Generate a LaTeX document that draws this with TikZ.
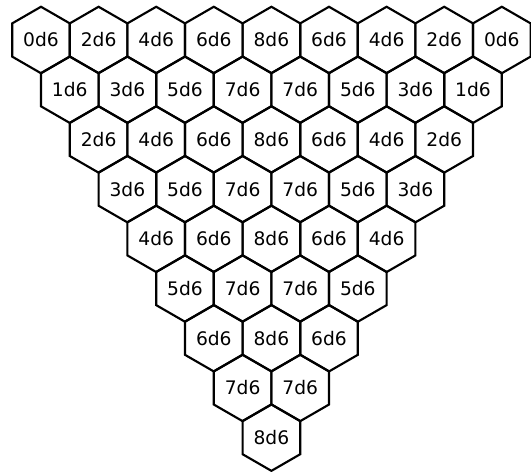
\documentclass[tikz,border=0pt]{standalone}
\usepackage{fontspec}
\setmainfont{DejaVu Sans}
\usetikzlibrary{calc}
\tikzset{
  hexcell/.style={draw=black,line width=1.6pt},
  dicelabel/.style={font=\fontsize{14}{16}\selectfont,inner sep=0pt},
}
\begin{document}
\begin{tikzpicture}[x=0.75pt,y=-0.75pt]
  \useasboundingbox (0,0) rectangle (531,471);
  % triangle of hex cells, row \r has 9-\r cells
  \foreach \r in {0,...,8}{
    \pgfmathtruncatemacro{\last}{8-\r}
    \foreach \c in {0,...,\last}{
      \pgfmathsetmacro{\cx}{41+57.6*(\c+\r/2)}
      \pgfmathsetmacro{\cy}{40+49.7*\r}
      \pgfmathtruncatemacro{\dice}{\r+2*min(\c,8-\r-\c)}
      \draw[hexcell] (\cx,\cy) +(90:33.25) -- +(30:33.25) -- +(-30:33.25)
        -- +(-90:33.25) -- +(-150:33.25) -- +(150:33.25) -- cycle;
      \node[dicelabel] (cell-\r-\c) at (\cx,\cy) {\dice d6};
    }
  }
\end{tikzpicture}
\end{document}
